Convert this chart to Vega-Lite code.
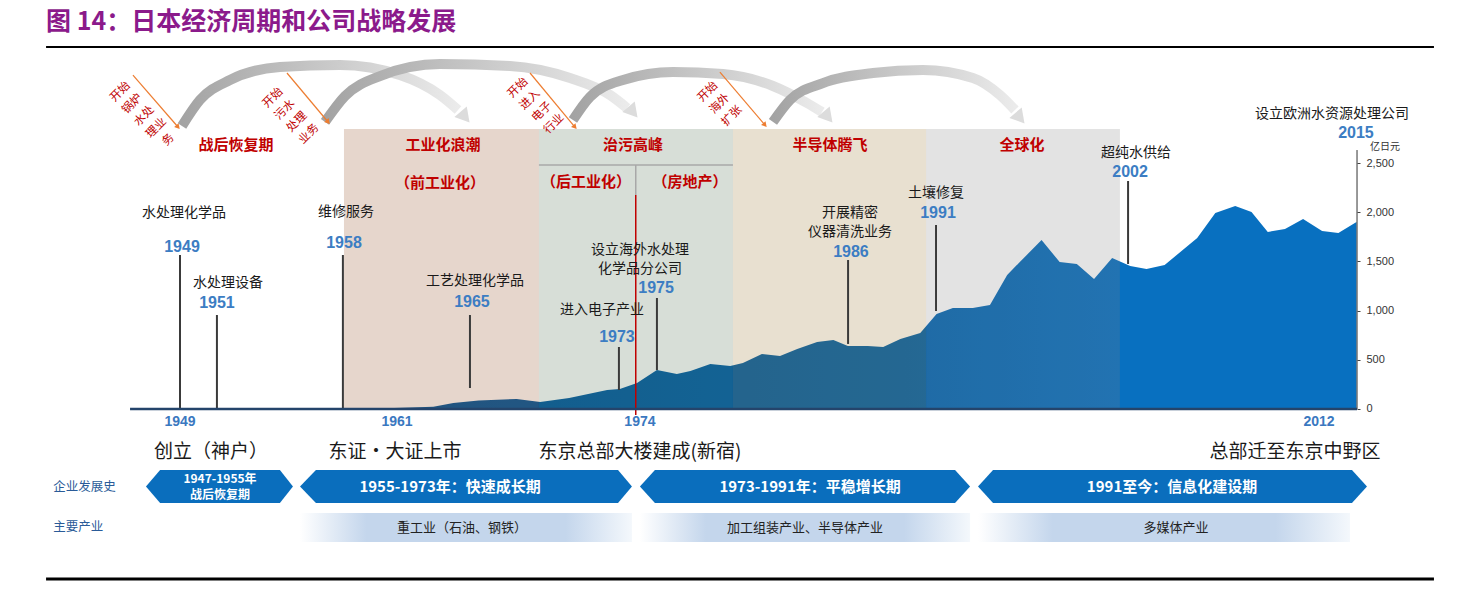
{
"$schema":"https://vega.github.io/schema/vega-lite/v6.json",
"width":1464,"height":590,"autosize":{"type":"none"},"padding":0,"background":"#ffffff",
"config":{"view":{"stroke":null},"text":{"font":"Noto Sans CJK SC"}},
"datasets":{
"sales":[{"yr":1958.5,"v":0},{"yr":1960.4,"v":8},{"yr":1963.0,"v":22},{"yr":1964.1,"v":61},{"yr":1965.5,"v":85},{"yr":1967.6,"v":102},{"yr":1968.9,"v":71},{"yr":1970.5,"v":112},{"yr":1972.6,"v":193},{"yr":1973.3,"v":203},{"yr":1974.25,"v":264},{"yr":1975.35,"v":396},{"yr":1976.45,"v":356},{"yr":1977.2,"v":386},{"yr":1978.3,"v":457},{"yr":1979.4,"v":437},{"yr":1980.1,"v":467},{"yr":1981.15,"v":559},{"yr":1982.15,"v":539},{"yr":1983.1,"v":610},{"yr":1984.2,"v":681},{"yr":1985.1,"v":701},{"yr":1985.9,"v":640},{"yr":1987.0,"v":640},{"yr":1987.85,"v":630},{"yr":1988.8,"v":711},{"yr":1989.9,"v":772},{"yr":1990.8,"v":965},{"yr":1991.7,"v":1026},{"yr":1992.8,"v":1026},{"yr":1993.75,"v":1057},{"yr":1994.7,"v":1362},{"yr":1995.4,"v":1494},{"yr":1996.6,"v":1717},{"yr":1997.6,"v":1494},{"yr":1998.55,"v":1474},{"yr":1999.5,"v":1321},{"yr":2000.5,"v":1535},{"yr":2001.5,"v":1453},{"yr":2002.4,"v":1423},{"yr":2003.4,"v":1463},{"yr":2004.4,"v":1616},{"yr":2005.2,"v":1738},{"yr":2006.2,"v":1992},{"yr":2007.3,"v":2063},{"yr":2008.2,"v":2002},{"yr":2009.1,"v":1799},{"yr":2010.05,"v":1829},{"yr":2011.05,"v":1931},{"yr":2012.1,"v":1809},{"yr":2013.0,"v":1789},{"yr":2014.0,"v":1900}],
"bands":[{"band":"工业化浪潮","yr":1958.06,"yr2":1968.83,"v":2846,"v2":0},{"band":"治污高峰","yr":1968.83,"yr2":1979.55,"v":2846,"v2":0},{"band":"半导体腾飞","yr":1979.55,"yr2":1990.22,"v":2846,"v2":0},{"band":"全球化","yr":1990.22,"yr2":2000.93,"v":2846,"v2":0}],
"divH":[{"yr":1968.83,"yr2":1979.55,"v":2480}],
"divV":[{"yr":1974.18,"v":2480,"v2":2175}],
"redLine":[{"yr":1974.18,"v":2175,"v2":-61}],
"vlines":[{"yr":1949.0,"v":1565,"v2":0},{"yr":1951.04,"v":955,"v2":0},{"yr":1958.0,"v":1565,"v2":0},{"yr":1965.02,"v":955,"v2":213},{"yr":1973.25,"v":630,"v2":193},{"yr":1975.35,"v":1128,"v2":396},{"yr":1985.91,"v":1514,"v2":661},{"yr":1990.77,"v":1870,"v2":996},{"yr":2001.38,"v":2317,"v2":1474}],
"axisLine":[{"yr":2014.03,"v":2632,"v2":0}],
"baseline":[{"yr":1946.24,"yr2":2014.03,"v":0}],
"topRule":[{"yr":1941.6,"yr2":2018.28,"v":3679}],
"bottomRule":[{"yr":1941.6,"yr2":2018.28,"v":-1728}],
"arcs":[
{"arc":1,"yr":1949.11,"v":2876},{"arc":1,"yr":1950.10,"v":3140},{"arc":1,"yr":1951.76,"v":3344},{"arc":1,"yr":1954.52,"v":3476},{"arc":1,"yr":1957.84,"v":3496},{"arc":1,"yr":1961.15,"v":3394},{"arc":1,"yr":1963.36,"v":3191},{"arc":1,"yr":1964.36,"v":3039},
{"arc":2,"yr":1957.01,"v":2917},{"arc":2,"yr":1958.12,"v":3181},{"arc":2,"yr":1960.05,"v":3384},{"arc":2,"yr":1963.36,"v":3506},{"arc":2,"yr":1967.23,"v":3486},{"arc":2,"yr":1970.55,"v":3364},{"arc":2,"yr":1972.76,"v":3191},{"arc":2,"yr":1973.70,"v":3059},
{"arc":3,"yr":1970.71,"v":2937},{"arc":3,"yr":1971.65,"v":3171},{"arc":3,"yr":1973.48,"v":3344},{"arc":3,"yr":1976.24,"v":3425},{"arc":3,"yr":1979.0,"v":3404},{"arc":3,"yr":1981.76,"v":3283},{"arc":3,"yr":1983.64,"v":3110},{"arc":3,"yr":1984.47,"v":3018},
{"arc":4,"yr":1981.76,"v":2917},{"arc":4,"yr":1982.70,"v":3140},{"arc":4,"yr":1984.52,"v":3313},{"arc":4,"yr":1987.29,"v":3415},{"arc":4,"yr":1990.05,"v":3445},{"arc":4,"yr":1992.81,"v":3364},{"arc":4,"yr":1994.30,"v":3191},{"arc":4,"yr":1995.13,"v":3039}],
"arcHeads":[{"yr":1964.75,"v":2967},{"yr":1974.03,"v":3018},{"yr":1984.80,"v":2967},{"yr":1995.41,"v":2957}],
"oArrows":[{"yr":1946.40,"yr2":1948.89,"v":3394,"v2":2866},{"yr":1954.91,"yr2":1957.18,"v":3415,"v2":2917},{"yr":1968.34,"yr2":1970.82,"v":3415,"v2":2866},{"yr":1978.83,"yr2":1981.32,"v":3425,"v2":2886}],
"oHeads":[{"yr":1948.89,"v":2866},{"yr":1957.18,"v":2917},{"yr":1970.82,"v":2866},{"yr":1981.32,"v":2886}],
"oLabels":[{"label":["开始","锅炉","水处","理业","务"],"yr":1945.71,"v":3221},{"label":["开始","污水","处理","业务"],"yr":1954.14,"v":3160},{"label":["开始","进入","电子","行业"],"yr":1967.68,"v":3262},{"label":["开始","海外","扩张"],"yr":1978.17,"v":3221}],
"header":[{"label":"战后恢复期","yr":1952.09,"v":2683},{"label":"工业化浪潮","yr":1963.53,"v":2683},{"label":"（前工业化）","yr":1963.36,"v":2297},{"label":"治污高峰","yr":1974.03,"v":2683},{"label":"（后工业化）","yr":1971.43,"v":2307},{"label":"（房地产）","yr":1977.18,"v":2307},{"label":"半导体腾飞","yr":1984.91,"v":2683},{"label":"全球化","yr":1995.52,"v":2683}],
"events":[{"label":"水处理化学品","yr":1949.22,"v":1992},{"label":"水处理设备","yr":1951.65,"v":1280},{"label":"维修服务","yr":1958.17,"v":2002},{"label":"工艺处理化学品","yr":1965.30,"v":1301},{"label":"进入电子产业","yr":1972.31,"v":1006},{"label":["设立海外水处理","化学品分公司"],"yr":1974.41,"v":1616},{"label":["开展精密","仪器清洗业务"],"yr":1986.02,"v":1992},{"label":"土壤修复","yr":1990.77,"v":2195},{"label":"超纯水供给","yr":2001.82,"v":2602},{"label":"设立欧洲水资源处理公司","yr":2012.65,"v":2998}],
"years":[{"label":"1949","yr":1949.11,"v":1646},{"label":"1951","yr":1951.04,"v":1077},{"label":"1958","yr":1958.06,"v":1687},{"label":"1965","yr":1965.13,"v":1087},{"label":"1973","yr":1973.14,"v":732},{"label":"1975","yr":1975.30,"v":1230},{"label":"1986","yr":1986.07,"v":1596},{"label":"1991","yr":1990.88,"v":1992},{"label":"2002","yr":2001.49,"v":2409},{"label":"2015","yr":2013.97,"v":2805}],
"bottomYears":[{"label":"1949","yr":1949.0,"v":-132},{"label":"1961","yr":1960.99,"v":-132},{"label":"1974","yr":1974.41,"v":-132},{"label":"2012","yr":2011.93,"v":-132}],
"milestones":[{"label":"创立（神户）","yr":1950.71,"v":-437},{"label":"东证•大证上市","yr":1960.88,"v":-437},{"label":"东京总部大楼建成(新宿)","yr":1974.41,"v":-437},{"label":"总部迁至东京中野区","yr":2010.60,"v":-437}],
"banners":[
{"b":1,"yr":1947.12,"v":-788,"v2":-788},{"b":1,"yr":1947.90,"v":-620,"v2":-955},{"b":1,"yr":1954.52,"v":-620,"v2":-955},{"b":1,"yr":1955.24,"v":-788,"v2":-788},
{"b":2,"yr":1955.63,"v":-788,"v2":-788},{"b":2,"yr":1956.51,"v":-620,"v2":-955},{"b":2,"yr":1973.20,"v":-620,"v2":-955},{"b":2,"yr":1973.97,"v":-788,"v2":-788},
{"b":3,"yr":1974.41,"v":-788,"v2":-788},{"b":3,"yr":1975.24,"v":-620,"v2":-955},{"b":3,"yr":1991.82,"v":-620,"v2":-955},{"b":3,"yr":1992.65,"v":-788,"v2":-788},
{"b":4,"yr":1993.09,"v":-788,"v2":-788},{"b":4,"yr":1993.92,"v":-620,"v2":-955},{"b":4,"yr":2013.75,"v":-620,"v2":-955},{"b":4,"yr":2014.58,"v":-788,"v2":-788}],
"bannerText1":[{"label":["1947-1955年","战后恢复期"],"yr":1951.21,"v":-711}],
"bannerText":[{"label":"1955-1973年：快速成长期","yr":1963.92,"v":-790},{"label":"1973-1991年：平稳增长期","yr":1983.81,"v":-790},{"label":"1991至今：信息化建设期","yr":2003.81,"v":-790}],
"industries":[{"yr":1955.63,"yr2":1973.97,"v":-1057,"v2":-1352},{"yr":1974.41,"yr2":1992.65,"v":-1057,"v2":-1352},{"yr":1993.09,"yr2":2013.64,"v":-1057,"v2":-1352}],
"industryText":[{"label":"重工业（石油、钢铁）","yr":1964.58,"v":-1209},{"label":"加工组装产业、半导体产业","yr":1983.53,"v":-1209},{"label":"多媒体产业","yr":2004.03,"v":-1209}],
"rowLabels":[{"label":"企业发展史","yr":1942.0,"v":-793},{"label":"主要产业","yr":1942.0,"v":-1199}],
"unit":[{"label":"亿日元","yr":2014.75,"v":2663}],
"title":[{"label":"图 14：日本经济周期和公司战略发展","yr":1941.6,"v":3933}]
},
"encoding":{
"x":{"field":"yr","type":"quantitative","scale":{"domain":[1939.055,2019.94],"nice":false,"zero":false},"axis":null},
"y":{"field":"v","type":"quantitative","scale":{"domain":[-1840,4157],"nice":false,"zero":false},
"axis":{"orient":"right","offset":-107,"values":[0,500,1000,1500,2000,2500],"format":",.0f","title":null,"domain":false,"grid":false,"ticks":true,"tickSize":3,"tickColor":"#444444","labelPadding":6,"labelFont":"Liberation Sans","labelFontSize":11,"labelColor":"#333333"}}
},
"layer":[
{"data":{"name":"sales"},"mark":{"type":"area","fill":{"gradient":"linear","x1":0,"y1":0,"x2":1,"y2":0,"stops":[{"offset":0,"color":"#03579a"},{"offset":0.55,"color":"#0565b0"},{"offset":0.765,"color":"#0870c0"},{"offset":1,"color":"#0870c0"}]}},"encoding":{"y2":{"datum":0}}},
{"data":{"name":"bands"},"mark":{"type":"rect","opacity":0.22},"encoding":{"x2":{"field":"yr2"},"y2":{"field":"v2"},"color":{"field":"band","type":"nominal","scale":{"domain":["工业化浪潮","治污高峰","半导体腾飞","全球化"],"range":["#8d4517","#496949","#967229","#808080"]},"legend":null}}},
{"data":{"name":"divH"},"mark":{"type":"rule","color":"#a8a8a8","strokeWidth":1.5},"encoding":{"x2":{"field":"yr2"}}},
{"data":{"name":"divV"},"mark":{"type":"rule","color":"#a8a8a8","strokeWidth":1.5},"encoding":{"y2":{"field":"v2"}}},
{"data":{"name":"redLine"},"mark":{"type":"rule","color":"#c00000","strokeWidth":1.5},"encoding":{"y2":{"field":"v2"}}},
{"data":{"name":"vlines"},"mark":{"type":"rule","color":"#3a3a3a","strokeWidth":2},"encoding":{"y2":{"field":"v2"}}},
{"data":{"name":"axisLine"},"mark":{"type":"rule","color":"#333333","strokeWidth":1},"encoding":{"y2":{"field":"v2"}}},
{"data":{"name":"baseline"},"mark":{"type":"rule","color":"#24446b","strokeWidth":2.5},"encoding":{"x2":{"field":"yr2"}}},
{"data":{"name":"topRule"},"mark":{"type":"rule","color":"#000000","strokeWidth":2},"encoding":{"x2":{"field":"yr2"}}},
{"data":{"name":"bottomRule"},"mark":{"type":"rule","color":"#000000","strokeWidth":3},"encoding":{"x2":{"field":"yr2"}}},
{"data":{"name":"arcs"},"mark":{"type":"line","interpolate":"monotone","strokeWidth":10,"strokeCap":"butt","stroke":{"gradient":"linear","x1":0,"y1":0,"x2":1,"y2":0,"stops":[{"offset":0,"color":"#a3a3a3"},{"offset":1,"color":"#ebebeb"}]}},"encoding":{"detail":{"field":"arc","type":"nominal"}}},
{"data":{"name":"arcHeads"},"mark":{"type":"point","shape":"triangle-up","angle":140,"size":260,"filled":true,"color":"#dcdcdc","opacity":1}},
{"data":{"name":"oArrows"},"mark":{"type":"rule","color":"#ed7d31","strokeWidth":1.2},"encoding":{"x2":{"field":"yr2"},"y2":{"field":"v2"}}},
{"data":{"name":"oHeads"},"mark":{"type":"point","shape":"triangle-up","angle":139,"size":35,"filled":true,"color":"#ed7d31","opacity":1}},
{"data":{"name":"oLabels"},"mark":{"type":"text","angle":-45,"align":"center","baseline":"middle","fontSize":11.5,"lineHeight":17,"color":"#c00000"},"encoding":{"text":{"field":"label"}}},
{"data":{"name":"header"},"mark":{"type":"text","align":"center","baseline":"middle","fontSize":15,"fontWeight":"bold","color":"#c00000"},"encoding":{"text":{"field":"label"}}},
{"data":{"name":"events"},"mark":{"type":"text","align":"center","baseline":"middle","fontSize":14,"lineHeight":19,"color":"#1a1a1a"},"encoding":{"text":{"field":"label"}}},
{"data":{"name":"years"},"mark":{"type":"text","align":"center","baseline":"middle","fontSize":16,"fontWeight":"bold","font":"Liberation Sans","color":"#3c7dc3"},"encoding":{"text":{"field":"label"}}},
{"data":{"name":"bottomYears"},"mark":{"type":"text","align":"center","baseline":"middle","fontSize":14,"fontWeight":"bold","font":"Liberation Sans","color":"#3a78c0"},"encoding":{"text":{"field":"label"}}},
{"data":{"name":"milestones"},"mark":{"type":"text","align":"center","baseline":"middle","fontSize":19,"color":"#1a1a1a"},"encoding":{"text":{"field":"label"}}},
{"data":{"name":"banners"},"mark":{"type":"area","color":"#0a6ebd","interpolate":"linear"},"encoding":{"y2":{"field":"v2"},"detail":{"field":"b","type":"nominal"}}},
{"data":{"name":"bannerText1"},"mark":{"type":"text","align":"center","baseline":"middle","fontSize":12,"lineHeight":16,"fontWeight":"bold","color":"#ffffff"},"encoding":{"text":{"field":"label"}}},
{"data":{"name":"bannerText"},"mark":{"type":"text","align":"center","baseline":"middle","fontSize":15,"fontWeight":"bold","color":"#ffffff"},"encoding":{"text":{"field":"label"}}},
{"data":{"name":"industries"},"mark":{"type":"rect","fill":{"gradient":"linear","x1":0,"y1":0,"x2":1,"y2":0,"stops":[{"offset":0,"color":"#ffffff"},{"offset":0.2,"color":"#c4d6ec"},{"offset":0.8,"color":"#c4d6ec"},{"offset":1,"color":"#f4f8fc"}]}},"encoding":{"x2":{"field":"yr2"},"y2":{"field":"v2"}}},
{"data":{"name":"industryText"},"mark":{"type":"text","align":"center","baseline":"middle","fontSize":13,"color":"#222222"},"encoding":{"text":{"field":"label"}}},
{"data":{"name":"rowLabels"},"mark":{"type":"text","align":"left","baseline":"middle","fontSize":12.5,"color":"#2a5b98"},"encoding":{"text":{"field":"label"}}},
{"data":{"name":"unit"},"mark":{"type":"text","align":"left","baseline":"middle","fontSize":10,"color":"#333333"},"encoding":{"text":{"field":"label"}}},
{"data":{"name":"title"},"mark":{"type":"text","align":"left","baseline":"middle","fontSize":25,"fontWeight":"bold","color":"#8b1a8b"},"encoding":{"text":{"field":"label"}}}
]
}
